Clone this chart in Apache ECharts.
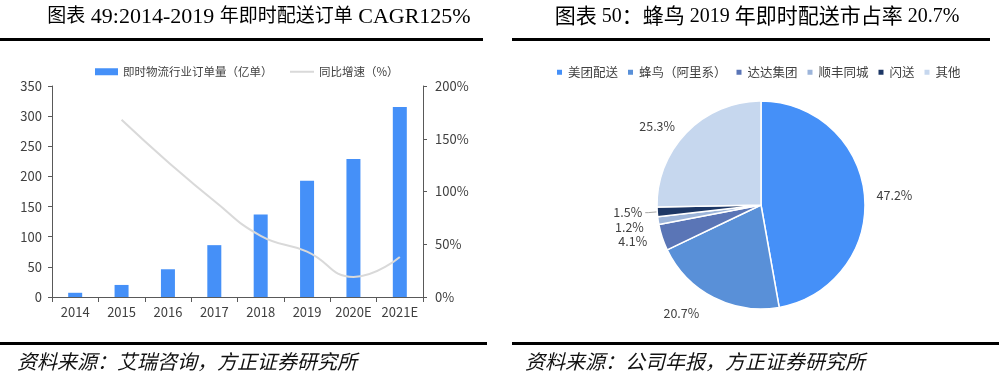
<!DOCTYPE html>
<html><head><meta charset="utf-8">
<script src="https://cdn.jsdelivr.net/npm/echarts@6/dist/echarts.min.js"></script>
<style>html,body{margin:0;padding:0;background:#fff}#c{width:999px;height:377px}</style>
</head><body><div id="c"></div>
<script>
// ---- data ----
const years = ['2014', '2015', '2016', '2017', '2018', '2019', '2020E', '2021E'];
const orders = [7, 20, 46, 86, 137, 193, 229, 315];          // 即时物流行业订单量（亿单）
const growth = [null, 168, 128, 91, 58, 43, 19, 38];          // 同比增速（%）
const shareNames = ['美团配送', '蜂鸟（阿里系）', '达达集团', '顺丰同城', '闪送', '其他'];
const shareValues = [47.2, 20.7, 4.1, 1.2, 1.5, 25.3];
const shareColors = ['#4590F8', '#5990D8', '#5A75B6', '#9DB5DA', '#1D3765', '#C6D7EE'];
const barName = '即时物流行业订单量（亿单）';
const lineName = '同比增速（%）';
const title1 = '图表 49:2014-2019 年即时配送订单 CAGR125%';
const title2 = '图表 50：蜂鸟 2019 年即时配送市占率 20.7%';
const source1 = '资料来源：艾瑞咨询，方正证券研究所';
const source2 = '资料来源：公司年报，方正证券研究所';

const CJK = '"Microsoft YaHei","Noto Sans CJK SC","Noto Sans",sans-serif';
const SERIF = '"Liberation Serif","Noto Sans CJK SC",serif';
const axisColor = '#595959';
const textColor = '#404040';

// split a title into CJK / latin runs for rich text
function richTitle(s) {
  const parts = s.match(/[\u3000-\u9fff\uff00-\uffef]+|[^\u3000-\u9fff\uff00-\uffef]+/g);
  return parts.map(p => (/[\u3000-\u9fff\uff00-\uffef]/.test(p) ? '{c|' : '{l|') + p + '}').join('');
}

const chart = echarts.init(document.getElementById('c'), null, {renderer: 'canvas'});

const lineLen = {'美团配送': 6, '蜂鸟（阿里系）': 18, '其他': 8};
const pieData = shareNames.map((n, i) => ({
  name: n, value: shareValues[i],
  itemStyle: {color: shareColors[i]},
  labelLine: {show: n === '闪送', length: lineLen[n] !== undefined ? lineLen[n] : 12, length2: 3}
}));

chart.setOption({
  animation: false,
  backgroundColor: '#fff',
  textStyle: {fontFamily: CJK},
  legend: [{
    left: 95, top: 66, padding: 0, itemWidth: 23, itemHeight: 7,
    textStyle: {fontSize: 11.5, color: textColor, fontFamily: CJK},
    data: [{name: barName, icon: 'rect'}]
  }, {
    left: 290, top: 66, padding: 0, itemWidth: 24, itemHeight: 2,
    textStyle: {fontSize: 11.5, color: textColor, fontFamily: CJK},
    data: [{name: lineName, icon: 'rect'}]
  }, {
    left: 555, top: 66, padding: 0, itemWidth: 7, itemHeight: 7, itemGap: 8,
    icon: 'rect',
    textStyle: {fontSize: 12.5, color: textColor, fontFamily: CJK},
    data: shareNames
  }],
  grid: {left: 52, right: 576, top: 86, bottom: 80, containLabel: false},
  xAxis: {
    type: 'category', data: years, boundaryGap: true,
    axisLine: {lineStyle: {color: axisColor, width: 1}},
    axisTick: {show: true, alignWithLabel: false, length: 5, lineStyle: {color: axisColor}},
    axisLabel: {color: textColor, fontSize: 13, margin: 9, interval: 0}
  },
  yAxis: [{
    type: 'value', min: 0, max: 350, interval: 50,
    axisLine: {show: true, lineStyle: {color: axisColor}},
    axisTick: {show: true, length: 4, lineStyle: {color: axisColor}},
    splitLine: {show: false},
    axisLabel: {color: textColor, fontSize: 13, margin: 10}
  }, {
    type: 'value', min: 0, max: 200, interval: 50, position: 'right',
    axisLine: {show: true, lineStyle: {color: axisColor}},
    axisTick: {show: true, length: 4, lineStyle: {color: axisColor}},
    splitLine: {show: false},
    axisLabel: {color: textColor, fontSize: 13, margin: 12, formatter: '{value}%'}
  }],
  series: [{
    name: barName, type: 'bar', data: orders, barWidth: 14,
    itemStyle: {color: '#4590F8'}
  }, {
    name: lineName, type: 'line', yAxisIndex: 1, data: growth, smooth: true,
    symbol: 'none', connectNulls: false,
    lineStyle: {color: '#D9D9D9', width: 2},
    itemStyle: {color: '#D9D9D9'}
  }, {
    name: '市占率', type: 'pie', center: [761, 205], radius: 104,
    startAngle: 90, clockwise: true,
    data: pieData,
    itemStyle: {borderColor: '#fff', borderWidth: 1.5},
    label: {show: true, position: 'outside', formatter: '{c}%', color: textColor, fontSize: 12.5, fontFamily: CJK, distanceToLabelLine: 3},
    labelLine: {length: 12, length2: 3, lineStyle: {color: '#A6A6A6', width: 1}},
    emphasis: {disabled: true}
  }],
  graphic: [
    {type: 'text', x: 259, y: 17, style: {text: richTitle(title1), textAlign: 'center', textVerticalAlign: 'middle',
      rich: {c: {fontSize: 19, fontFamily: SERIF, fill: '#000'}, l: {fontSize: 22, fontFamily: SERIF, fill: '#000'}}}},
    {type: 'text', x: 757, y: 17, style: {text: richTitle(title2), textAlign: 'center', textVerticalAlign: 'middle',
      rich: {c: {fontSize: 21, fontFamily: SERIF, fill: '#000'}, l: {fontSize: 20, fontFamily: SERIF, fill: '#000'}}}},
    {type: 'rect', shape: {x: 0, y: 38, width: 483, height: 3}, style: {fill: '#000'}},
    {type: 'rect', shape: {x: 512, y: 38, width: 478, height: 3}, style: {fill: '#000'}},
    {type: 'rect', shape: {x: 0, y: 342, width: 487, height: 3}, style: {fill: '#000'}},
    {type: 'rect', shape: {x: 512, y: 342, width: 487, height: 3}, style: {fill: '#000'}},
    {type: 'text', x: 17, y: 361, style: {text: source1, fontSize: 20, fontStyle: 'italic', fontFamily: CJK, fill: '#111', textVerticalAlign: 'middle'}},
    {type: 'text', x: 525, y: 361, style: {text: source2, fontSize: 20, fontStyle: 'italic', fontFamily: CJK, fill: '#111', textVerticalAlign: 'middle'}}
  ]
});
</script>
</body></html>
